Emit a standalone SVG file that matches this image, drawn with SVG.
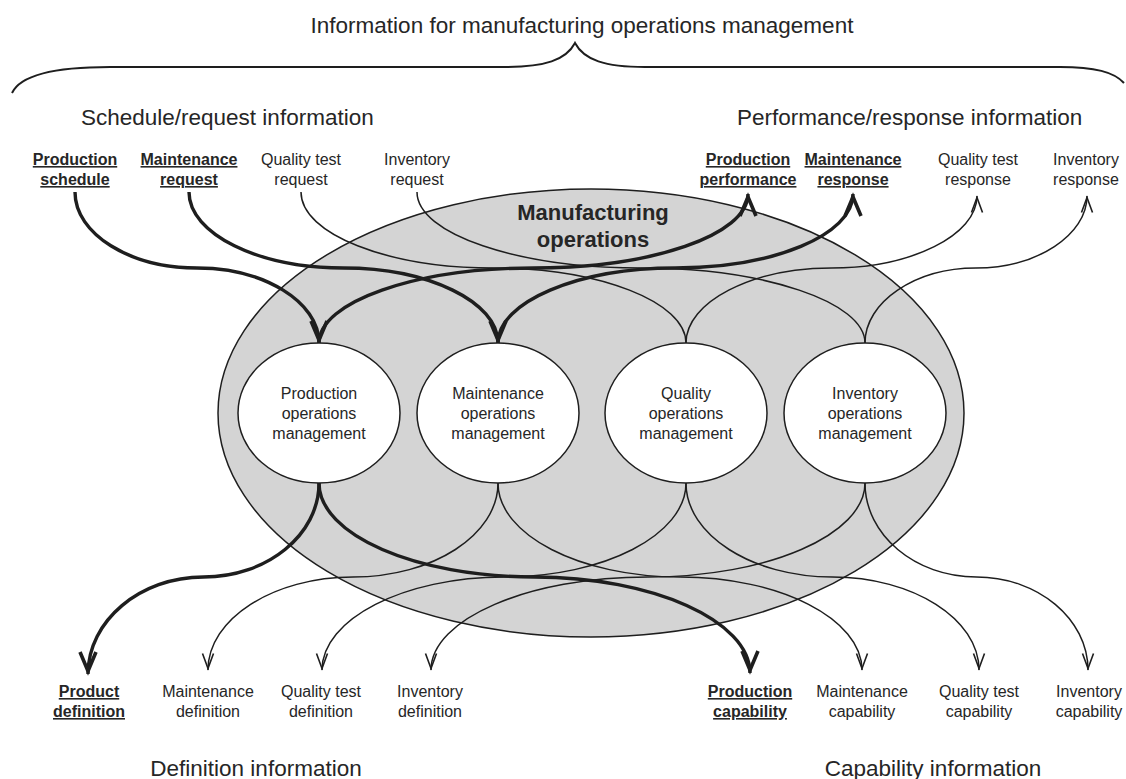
<svg xmlns="http://www.w3.org/2000/svg" width="1126" height="779" viewBox="0 0 1126 779">
<style>
text{font-family:"Liberation Sans",Arial,sans-serif;fill:#262626}
.h{font-size:22.5px;text-anchor:start}
.lb{font-size:16px;text-anchor:middle}
.lbb{font-size:16px;font-weight:bold;text-anchor:middle;text-decoration:underline}
.node{font-size:16px;text-anchor:middle}
.c{fill:none;stroke:#1e1e1e;stroke-width:1.5}
.cb{fill:none;stroke:#1e1e1e;stroke-width:3.4}
.e{fill:#fff;stroke:#1e1e1e;stroke-width:1.5}
</style>
<defs>
<marker id="ah" viewBox="-20 -10 24 20" refX="0" refY="0" markerWidth="24" markerHeight="20" orient="auto" markerUnits="userSpaceOnUse" style="overflow:visible">
<path d="M-16.5,-5.5 L-1.5,0 L-16.5,5.5" fill="none" stroke="#1e1e1e" stroke-width="1.6"/>
</marker>
<marker id="ahb" viewBox="-28 -12 32 24" refX="0" refY="0" markerWidth="32" markerHeight="24" orient="auto" markerUnits="userSpaceOnUse" style="overflow:visible">
<path d="M-22,-8 L-3,0 L-22,8" fill="none" stroke="#1e1e1e" stroke-width="3.6"/>
</marker>
</defs>
<rect width="1126" height="779" fill="#fff"/>

<g id="headings">
<text x="582" y="33" style="font-size:22.5px;text-anchor:middle">Information for manufacturing operations management</text>
<path d="M12,93 C20,76 50,67 110,67 L505,67 C545,67 566,60 575,43 C584,60 605,67 645,67 L1060,67 C1095,67 1114,72 1124,83" fill="none" stroke="#1e1e1e" stroke-width="2"/>
<text class="h" x="81" y="125">Schedule/request information</text>
<text class="h" x="737" y="125">Performance/response information</text>
<text x="256" y="776" style="font-size:22.5px;text-anchor:middle">Definition information</text>
<text x="933" y="776" style="font-size:22.5px;text-anchor:middle">Capability information</text>
</g>

<g id="manufacturing-operations">
<ellipse cx="591" cy="413" rx="373" ry="224" fill="#d4d4d4" stroke="#1e1e1e" stroke-width="1.5"/>
<text x="593" y="220" style="font-size:22px;font-weight:bold;text-anchor:middle">Manufacturing</text>
<text x="593" y="247" style="font-size:22px;font-weight:bold;text-anchor:middle">operations</text>
</g>

<g id="connectors">
<path class="cb" d="M75,192 C75,234 130,268 197,268 C264,268 319,302 319,343" marker-end="url(#ahb)"/>
<path class="cb" d="M189,192 C189,234 258.5,268 343.5,268 C428.5,268 498,302 498,343" marker-end="url(#ahb)"/>
<path class="c" d="M301,192 C301,234 387.6,268 493.5,268 C599.4,268 686,302 686,343"/>
<path class="c" d="M417,192 C417,234 517.8,268 641,268 C764.2,268 865,302 865,343"/>
<path class="cb" d="M319,343 C319,302 415.5,268 533.5,268 C651.5,268 748,235 748,194" marker-end="url(#ahb)"/>
<path class="cb" d="M498,343 C498,302 577.9,268 675.5,268 C773.1,268 853,235 853,194" marker-end="url(#ahb)"/>
<path class="c" d="M686,343 C686,302 751.5,268 831.5,268 C911.5,268 977,235 977,196" marker-end="url(#ah)"/>
<path class="c" d="M865,343 C865,302 915,268 976,268 C1037,268 1087,235 1087,196" marker-end="url(#ah)"/>
<path class="cb" d="M319,483 C319,535 267,577 203.5,577 C140,577 88,621 88,674" marker-end="url(#ahb)"/>
<path class="c" d="M498,483 C498,535 432.75,577 353,577 C273.25,577 208,619 208,670" marker-end="url(#ah)"/>
<path class="c" d="M686,483 C686,535 604,577 504,577 C404,577 322,619 322,670" marker-end="url(#ah)"/>
<path class="c" d="M865,483 C865,535 767.4,577 648,577 C528.6,577 431,619 431,670" marker-end="url(#ah)"/>
<path class="cb" d="M319,483 C319,535 416,577 534.5,577 C653,577 750,621 750,673" marker-end="url(#ahb)"/>
<path class="c" d="M498,483 C498,535 580,577 680,577 C780,577 862,619 862,670" marker-end="url(#ah)"/>
<path class="c" d="M686,483 C686,535 752.1,577 832.5,577 C912.9,577 979,619 979,670" marker-end="url(#ah)"/>
<path class="c" d="M865,483 C865,535 915.2,577 976.5,577 C1037.8,577 1088,619 1088,670" marker-end="url(#ah)"/>
</g>

<g id="production-ops">
<ellipse class="e" cx="319" cy="413" rx="81" ry="70"/>
<text class="node" x="319" y="399">Production</text>
<text class="node" x="319" y="419">operations</text>
<text class="node" x="319" y="439">management</text>
</g>
<g id="maintenance-ops">
<ellipse class="e" cx="498" cy="413" rx="81" ry="70"/>
<text class="node" x="498" y="399">Maintenance</text>
<text class="node" x="498" y="419">operations</text>
<text class="node" x="498" y="439">management</text>
</g>
<g id="quality-ops">
<ellipse class="e" cx="686" cy="413" rx="81" ry="70"/>
<text class="node" x="686" y="399">Quality</text>
<text class="node" x="686" y="419">operations</text>
<text class="node" x="686" y="439">management</text>
</g>
<g id="inventory-ops">
<ellipse class="e" cx="865" cy="413" rx="81" ry="70"/>
<text class="node" x="865" y="399">Inventory</text>
<text class="node" x="865" y="419">operations</text>
<text class="node" x="865" y="439">management</text>
</g>

<g id="production-schedule"><text class="lbb" x="75" y="165">Production</text><text class="lbb" x="75" y="185">schedule</text></g>
<g id="maintenance-request"><text class="lbb" x="189" y="165">Maintenance</text><text class="lbb" x="189" y="185">request</text></g>
<g id="quality-test-request"><text class="lb" x="301" y="165">Quality test</text><text class="lb" x="301" y="185">request</text></g>
<g id="inventory-request"><text class="lb" x="417" y="165">Inventory</text><text class="lb" x="417" y="185">request</text></g>
<g id="production-performance"><text class="lbb" x="748" y="165">Production</text><text class="lbb" x="748" y="185">performance</text></g>
<g id="maintenance-response"><text class="lbb" x="853" y="165">Maintenance</text><text class="lbb" x="853" y="185">response</text></g>
<g id="quality-test-response"><text class="lb" x="978" y="165">Quality test</text><text class="lb" x="978" y="185">response</text></g>
<g id="inventory-response"><text class="lb" x="1086" y="165">Inventory</text><text class="lb" x="1086" y="185">response</text></g>

<g id="product-definition"><text class="lbb" x="89" y="697">Product</text><text class="lbb" x="89" y="717">definition</text></g>
<g id="maintenance-definition"><text class="lb" x="208" y="697">Maintenance</text><text class="lb" x="208" y="717">definition</text></g>
<g id="quality-test-definition"><text class="lb" x="321" y="697">Quality test</text><text class="lb" x="321" y="717">definition</text></g>
<g id="inventory-definition"><text class="lb" x="430" y="697">Inventory</text><text class="lb" x="430" y="717">definition</text></g>
<g id="production-capability"><text class="lbb" x="750" y="697">Production</text><text class="lbb" x="750" y="717">capability</text></g>
<g id="maintenance-capability"><text class="lb" x="862" y="697">Maintenance</text><text class="lb" x="862" y="717">capability</text></g>
<g id="quality-test-capability"><text class="lb" x="979" y="697">Quality test</text><text class="lb" x="979" y="717">capability</text></g>
<g id="inventory-capability"><text class="lb" x="1089" y="697">Inventory</text><text class="lb" x="1089" y="717">capability</text></g>
</svg>
